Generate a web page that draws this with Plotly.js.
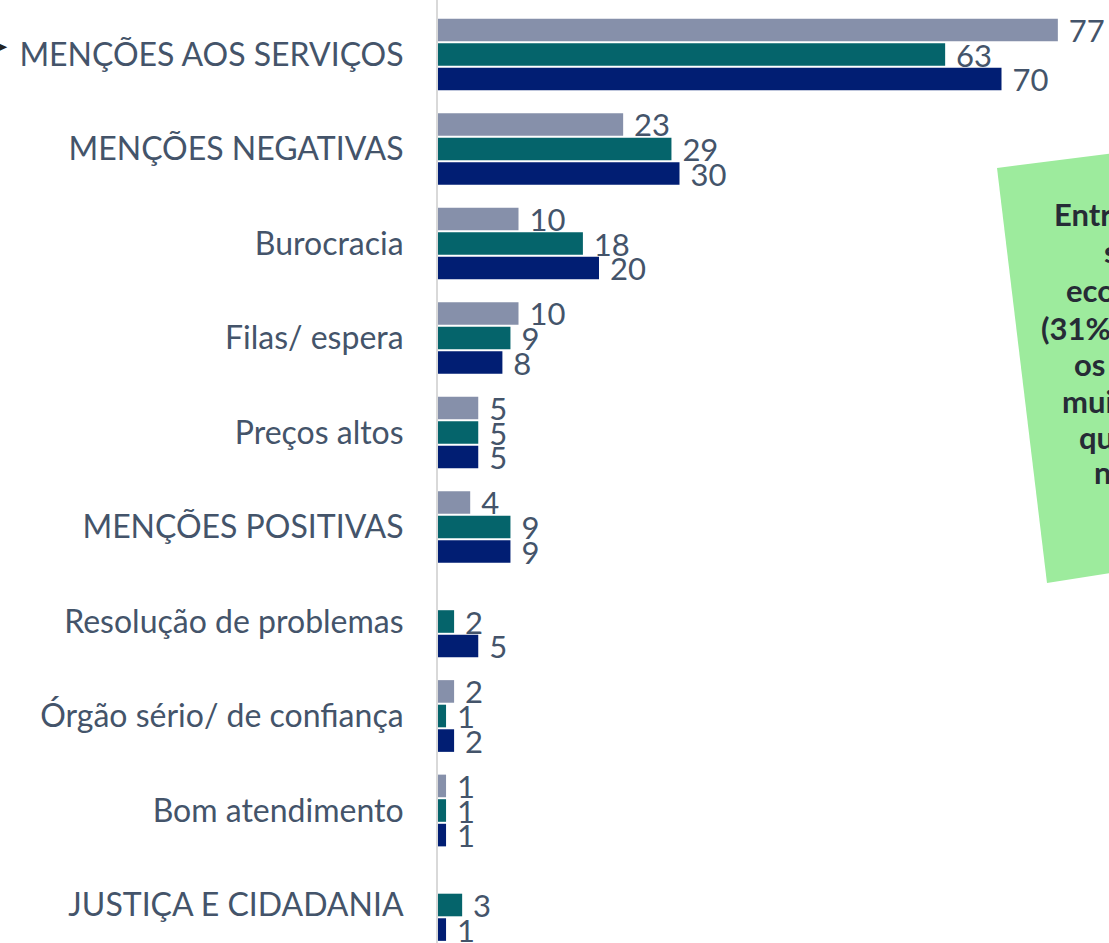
<!DOCTYPE html>
<html><head><meta charset="utf-8">
<script src="https://cdn.plot.ly/plotly-3.0.1.min.js"></script>
<style>html,body{margin:0;padding:0;background:#fff;}#c{width:1109px;height:943px;}</style>
</head><body><div id="c"></div>
<script>
const categories = ["MENÇÕES AOS SERVIÇOS","MENÇÕES NEGATIVAS","Burocracia","Filas/ espera","Preços altos","MENÇÕES POSITIVAS","Resolução de problemas","Órgão sério/ de confiança","Bom atendimento","JUSTIÇA E CIDADANIA"];
const seriesGray = [77,23,10,10,5,4,null,2,1,null];
const seriesTeal = [63,29,18,9,5,9,2,1,1,3];
const seriesNavy = [70,30,20,8,5,9,5,2,1,1];
const boxLines = ["Entr","s","eco","(31%","os","mui","qu","n"];

const W=1109,H=943,L=438;
const px=x=>(x-L)/(W-L), py=y=>1-y/H;
const lblColor="#44546a";
function tr(vals,color){
  return {type:'bar',orientation:'h',y:categories,x:vals,
    marker:{color:color},
    text:vals.map(v=>v==null?'':'\u00a0'+v),textposition:'outside',
    textfont:{family:'Lato, sans-serif',size:31,color:lblColor},
    constraintext:'none',cliponaxis:false,hoverinfo:'skip'};
}
const data=[tr(seriesGray,'#8690aa'),tr(seriesTeal,'#05646b'),tr(seriesNavy,'#011e73')];
const shapes=[{type:'path',xref:'paper',yref:'paper',
  path:`M ${px(997)} ${py(168)} L ${px(1130)} ${py(151)} L ${px(1130)} ${py(570)} L ${px(1047)} ${py(583)} Z`,
  fillcolor:'#9deb9d',line:{width:0},layer:'above'}];
const boxY=[214,251,290,328,364,401,437,472];
const boxX=[1052,1102,1064,1039,1072,1060,1077,1092];
const annotations=boxLines.map((t,i)=>({xref:'paper',yref:'paper',x:px(boxX[i]),y:py(boxY[i]),
  xanchor:'left',yanchor:'middle',text:'<b>'+t+'</b>',showarrow:false,
  font:{family:'Lato, sans-serif',size:31,color:'#262b36'}}));
annotations.push({xref:'paper',yref:'paper',x:px(10),y:py(46),xanchor:'right',yanchor:'middle',
  text:'➤',showarrow:false,font:{size:18,color:'#222'}});
const layout={width:W,height:H,margin:{l:L,r:0,t:0,b:0,pad:0},
  paper_bgcolor:'#fff',plot_bgcolor:'#fff',showlegend:false,
  barmode:'group',bargap:0.22,bargroupgap:0.08,
  xaxis:{range:[0,(W-L)/8.05],visible:false,fixedrange:true},
  yaxis:{type:'category',range:[(H-54.5)/94.5,-54.5/94.5],showline:true,linecolor:'#d9d9d9',linewidth:2,
    showgrid:false,ticks:'',ticklabelstandoff:26,
    tickfont:{family:'Lato, sans-serif',size:32,color:lblColor}},
  shapes:shapes,annotations:annotations};
Plotly.newPlot('c',data,layout,{staticPlot:true});
</script></body></html>
